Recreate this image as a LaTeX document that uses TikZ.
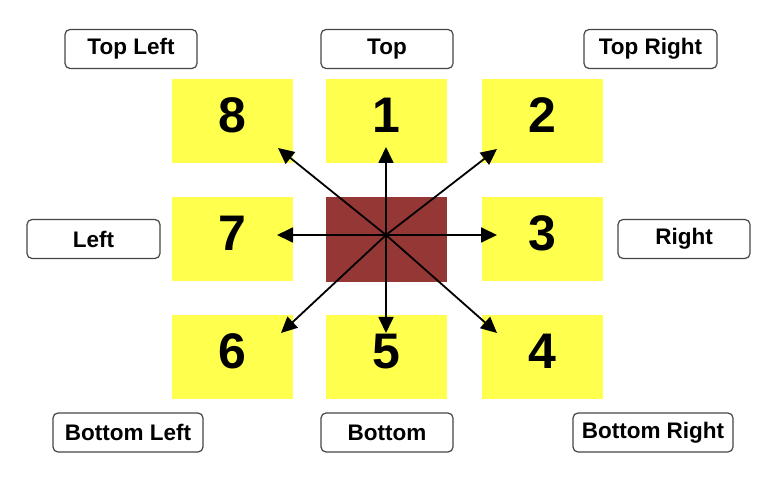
\documentclass[tikz,border=0pt]{standalone}
\usepackage{fontspec}
\setmainfont{Liberation Sans}
\usetikzlibrary{arrows.meta, positioning}
\definecolor{cajaAmarilla}{RGB}{255,255,77}
\definecolor{centroRojo}{RGB}{149,55,53}
\definecolor{bordeGris}{RGB}{70,70,70}

\begin{document}
\begin{tikzpicture}[x=1pt, y=-1pt,
    numBox/.style={fill=cajaAmarilla, minimum width=121pt, minimum height=84pt,
        inner sep=0pt, text depth=12pt, font=\fontsize{50}{50}\selectfont\bfseries},
    etiqueta/.style={draw=bordeGris, line width=1.2pt, rounded corners=5pt,
        fill=white, minimum height=39pt, inner sep=0pt,
        font=\fontsize{22.5}{22.5}\selectfont\bfseries},
    flecha/.style={-{Triangle[length=16pt, width=15pt]}, line width=1.8pt}]
            \useasboundingbox (0,0) rectangle (777,481);

            % CAJAS NUMERADAS
            % Fila superior
            \node[numBox] (caja8) at (232.5,121) {8};
            \node[numBox] (caja1) at (386.5,121) {1};
            \node[numBox] (caja2) at (542,121) {2};
            % Fila central
            \node[numBox] (caja7) at (232.5,239.5) {7};
            \node[numBox] (caja3) at (542,239.5) {3};
            % Fila inferior
            \node[numBox] (caja6) at (232.5,357) {6};
            \node[numBox] (caja5) at (386.5,357) {5};
            \node[numBox] (caja4) at (542,357) {4};

            % Centro
            \node[fill=centroRojo, minimum width=121pt, minimum height=85pt,
                inner sep=0pt] (centro) at (386.5,239.5) {};

            % FLECHAS
            \coordinate (origen) at (386,235);
            \coordinate (punta8) at (278,148);
            \coordinate (punta1) at (386,147);
            \coordinate (punta2) at (497,149);
            \coordinate (punta7) at (277,235);
            \coordinate (punta3) at (497,235);
            \coordinate (punta6) at (281,333);
            \coordinate (punta5) at (386,333);
            \coordinate (punta4) at (497,333);

            \draw[flecha] (origen) -- (punta8);
            \draw[flecha] (origen) -- (punta1);
            \draw[flecha] (origen) -- (punta2);
            \draw[flecha] (origen) -- (punta7);
            \draw[flecha] (origen) -- (punta3);
            \draw[flecha] (origen) -- (punta6);
            \draw[flecha] (origen) -- (punta5);
            \draw[flecha] (origen) -- (punta4);

            % ETIQUETAS
            \node[etiqueta, minimum width=132pt] (topLeft) at (131,49) {Top Left};
            \node[etiqueta, minimum width=132pt] (top) at (387,49) {Top};
            \node[etiqueta, minimum width=133pt] (topRight) at (650.5,49) {Top Right};
            \node[etiqueta, minimum width=133pt] (left) at (93.5,239) {Left};
            \node[etiqueta, minimum width=132pt] (right) at (684,239) {Right};
            \node[etiqueta, minimum width=150pt] (bottomLeft) at (128,432.5) {Bottom Left};
            \node[etiqueta, minimum width=132pt] (bottom) at (387,432.5) {Bottom};
            \node[etiqueta, minimum width=160pt] (bottomRight) at (653,432.5) {Bottom Right};
        \end{tikzpicture}
\end{document}
